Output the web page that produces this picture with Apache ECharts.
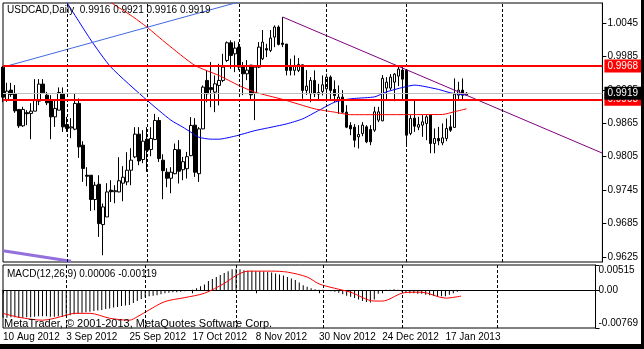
<!DOCTYPE html>
<html><head><meta charset="utf-8">
<script src="https://cdn.jsdelivr.net/npm/echarts@6/dist/echarts.min.js"></script>
<style>
html,body{margin:0;padding:0;background:#000;width:644px;height:349px;overflow:hidden}
#c{position:absolute;left:0;top:0;width:641px;height:344px;background:#fff}
</style></head><body><div id="c"></div>
<script>
const symbolTitle = 'USDCAD,Daily';
const dateLabels = ['10 Aug 2012','3 Sep 2012','25 Sep 2012','17 Oct 2012','8 Nov 2012','30 Nov 2012','24 Dec 2012','17 Jan 2013'];
const labelStep = 16;
const slotCount = 151;
const priceTicks = [0.9625,0.9685,0.9745,0.9805,0.9865,0.9925,0.9985,1.0045];
const macdTicks = [-0.00769,0,0.00515];
const monthSeparators = [16,36,59,81,101,125];

const open = [0.99659,0.99079,0.99246,0.99186,0.98899,0.98605,0.98841,0.98827,0.98868,0.99048,
0.99354,0.99156,0.99066,0.98766,0.98886,0.99186,0.98629,0.98568,0.98545,0.99007,
0.98257,0.97718,0.97718,0.97282,0.97556,0.96832,0.96969,0.97449,0.97422,0.97418,
0.97575,0.97598,0.97808,0.98047,0.98455,0.98000,0.98365,0.98180,0.98360,0.98701,
0.97988,0.97772,0.97664,0.97745,0.98176,0.97817,0.97835,0.98069,0.98617,0.97745,
0.98550,0.99420,0.99291,0.99210,0.99330,0.99420,0.99779,1.00096,0.99898,1.00018,
0.99659,0.99539,0.99695,0.99192,0.99659,0.99808,0.99991,0.99959,1.00198,1.00378,
1.00090,1.00072,0.99659,0.99600,0.99600,0.99700,0.99240,0.99179,0.99420,0.99201,
0.99222,0.99269,0.99479,0.99258,0.99061,0.99120,0.98850,0.98612,0.98581,0.98407,
0.98468,0.98586,0.98539,0.98527,0.98707,0.98694,0.99282,0.99282,0.99389,0.99497,
0.99605,0.99605,0.98468,0.98743,0.98581,0.98617,0.98647,0.98796,0.98288,0.98378,
0.98299,0.98378,0.98586,0.98576,0.99156,0.99246,0.9916];
const close = [0.99120,0.99228,0.99168,0.98874,0.98605,0.98899,0.98823,0.98868,0.99066,0.99354,
0.99197,0.99018,0.98766,0.98917,0.99204,0.98586,0.98557,0.98586,0.99007,0.98227,
0.97839,0.97700,0.97282,0.97539,0.96850,0.97149,0.97418,0.97422,0.97440,0.97619,
0.97682,0.97808,0.97988,0.98455,0.97975,0.98329,0.98167,0.98378,0.98701,0.98018,
0.97799,0.97664,0.97772,0.98180,0.97790,0.97961,0.98051,0.98612,0.97772,0.98550,
0.99300,0.99179,0.99255,0.99359,0.99420,0.99659,1.00096,0.99869,1.00000,0.99659,
0.99539,0.99605,0.99161,0.99659,1.00018,1.00108,0.99965,1.00180,1.00378,1.00067,
1.00067,0.99600,0.99600,0.99690,0.99708,0.99240,0.99318,0.99420,0.99179,0.99174,
0.99341,0.99479,0.99240,0.99150,0.99120,0.98850,0.98581,0.98550,0.98347,0.98450,
0.98617,0.98317,0.98317,0.98856,0.98856,0.99456,0.99389,0.99479,0.99533,0.99623,
0.99443,0.98437,0.98737,0.98599,0.98626,0.98676,0.98766,0.98288,0.98378,0.98335,
0.98389,0.98557,0.98527,0.99174,0.99246,0.99156,0.9919];
const low = [0.99030,0.99036,0.99125,0.98838,0.98568,0.98586,0.98617,0.98365,0.98868,0.98976,
0.99186,0.98976,0.98365,0.98586,0.98886,0.98496,0.98496,0.98383,0.98527,0.98029,
0.97598,0.97521,0.97077,0.97089,0.96610,0.96281,0.96969,0.97238,0.97215,0.97413,
0.97251,0.97539,0.97539,0.98024,0.97898,0.97934,0.97778,0.98060,0.98347,0.97957,
0.97287,0.97503,0.97395,0.97736,0.97569,0.97628,0.97659,0.98060,0.97688,0.97598,
0.98545,0.99030,0.98940,0.98850,0.98971,0.99389,0.99749,0.99628,0.99569,0.99605,
0.99156,0.99425,0.99066,0.98707,0.99641,0.99785,0.99839,0.99929,1.00018,1.00049,
1.00018,0.99510,0.99510,0.99510,0.99569,0.99090,0.99161,0.99030,0.99120,0.99061,
0.99150,0.99061,0.99061,0.99030,0.98820,0.98832,0.98563,0.98437,0.98221,0.98198,
0.98419,0.98293,0.98257,0.98496,0.98671,0.98689,0.99066,0.99246,0.99048,0.99318,
0.99066,0.98257,0.98437,0.98496,0.98527,0.98407,0.98347,0.98113,0.98113,0.98257,
0.98257,0.98329,0.98496,0.98576,0.99066,0.99066,0.9916];
const high = [0.99677,0.99377,0.99377,0.99336,0.98904,0.98946,0.98886,0.99012,0.99443,0.99443,
0.99443,0.99215,0.99156,0.99066,0.99294,0.99294,0.98766,0.98743,0.99186,0.99097,
0.98329,0.97862,0.97718,0.97598,0.97718,0.97210,0.97575,0.97628,0.97539,0.98042,
0.97880,0.98131,0.98203,0.98581,0.98581,0.98527,0.98581,0.98581,0.98820,0.98761,
0.98095,0.97844,0.97862,0.98288,0.98347,0.98047,0.98137,0.98761,0.98743,0.98581,
0.99330,0.99600,0.99749,0.99510,0.99718,0.99898,1.00121,1.00139,1.00121,1.00108,
0.99749,0.99785,0.99695,0.99695,1.00108,1.00324,1.00078,1.00324,1.00408,1.00408,
1.00558,1.00072,0.99808,0.99869,0.99821,0.99700,0.99605,0.99479,0.99600,0.99359,
0.99510,0.99539,0.99510,0.99420,0.99330,0.99246,0.98976,0.98671,0.98635,0.98617,
0.98671,0.98617,0.98617,0.98946,0.98946,0.99515,0.99479,0.99533,0.99551,0.99695,
0.99659,0.99623,0.98796,0.99066,0.98766,0.98796,0.98796,0.98796,0.98557,0.98586,
0.98647,0.98737,0.98796,0.99456,0.99395,0.99456,0.9921];

// moving averages: [bar index, price]
const maBlue = [[16,1.00818],[22,1.00144],[27,0.99659],[36,0.99066],[42,0.98707],[45,0.98581],[47,0.98491],[49,0.98401],[52,0.98365],[54,0.98365],[58,0.98419],[63,0.98518],[66,0.98563],[71,0.98640],[75,0.98730],[79,0.98881],[83,0.99030],[86,0.99079],[88,0.99097],[93,0.99125],[96,0.99215],[100,0.99294],[103,0.99336],[105,0.99318],[109,0.99258],[112,0.99197],[116,0.99156]];
const maRed = [[27,1.00818],[32,1.00588],[36,1.00378],[41,1.00078],[48,0.99690],[54,0.99510],[59,0.99330],[63,0.99210],[70,0.99079],[78,0.98910],[83,0.98850],[87,0.98805],[110,0.98809],[113,0.98859],[116,0.98910]];
// trend lines
const trendBlue = [[0,0.99659],[62,1.00888]];
const trendPurple = [[70,1.00558],[150,0.98114]];
const trendLavender = [[0,0.96362],[17,0.96173]];
// horizontal levels
const redLevels = [0.9968,0.9908];
const bidLevel = 0.9919;

// MACD
const macd = [-0.0056,-0.0056,-0.0055,-0.0055,-0.0056,-0.0056,-0.0055,-0.0055,-0.0054,-0.0053,
-0.0053,-0.0053,-0.0054,-0.0054,-0.0053,-0.0054,-0.0053,-0.0051,-0.0049,-0.0048,
-0.0046,-0.0045,-0.0044,-0.0042,-0.0041,-0.0040,-0.0038,-0.0037,-0.0035,-0.0034,
-0.0032,-0.0031,-0.0030,-0.0026,-0.0022,-0.0018,-0.0014,-0.0012,-0.0011,-0.0010,
-0.0008,-0.0006,-0.0005,-0.0004,-0.0004,-0.0003,-0.0002,-0.0001,0.0001,0.0004,
0.0008,0.0012,0.0019,0.0023,0.0027,0.0031,0.0035,0.0039,0.0043,0.0044,
0.0043,0.0041,0.0040,0.0040,0.0039,0.0039,0.0038,0.0037,0.0036,0.0034,
0.0032,0.0030,0.0027,0.0024,0.0021,0.0016,0.0010,0.0007,0.0004,0.0002,
0.0001,0.0001,0.0000,-0.0002,-0.0003,-0.0005,-0.0008,-0.0011,-0.0013,-0.0016,
-0.0019,-0.0022,-0.0024,-0.0025,-0.0019,-0.0007,-0.0002,0.0001,0.0001,0.0002,
0.0001,-0.0003,-0.0005,-0.0006,-0.0006,-0.0007,-0.0007,-0.0009,-0.0010,-0.0011,
-0.0012,-0.0012,-0.0012,-0.0009,-0.0006,-0.0003,0.00006];
const signal = [[0,-0.0047],[4,-0.0055],[10,-0.0061],[16,-0.0051],[18,-0.0047],[22,-0.0047],[27,-0.0057],[32,-0.0061],[34,-0.0054],[37,-0.0040],[41,-0.0023],[46,-0.0015],[51,-0.0006],[56,0.0014],[59,0.0030],[62,0.0039],[68,0.0039],[72,0.0037],[77,0.0027],[80,0.0013],[84,0.0004],[88,-0.0004],[94,-0.0022],[96,-0.0022],[101,-0.0006],[104,-0.0004],[106,-0.0004],[112,-0.0016],[116,-0.00119]];

const FONT = '"Liberation Sans", Arial, sans-serif';
const n = open.length;
const cats = Array.from({length: slotCount}, (_, i) => String(i));
const candles = open.map((o, i) => [o, close[i], low[i], high[i]]);
const isLabel = (i) => i % labelStep === 0 && i / labelStep < dateLabels.length;
const sepLine = (axisIdx) => ({
  type: 'line', xAxisIndex: axisIdx, yAxisIndex: axisIdx, data: [], z: 1, silent: true,
  markLine: { symbol: 'none', silent: true, animation: false, label: {show: false},
    lineStyle: {color: '#000', type: [3, 2], width: 1},
    data: monthSeparators.map(v => ({xAxis: v})) }
});
const lvlLabel = (bg) => ({ show: true, position: 'end', distance: 2, formatter: p => Number(p.value).toFixed(4),
  backgroundColor: bg, color: '#fff', fontSize: 10, fontFamily: FONT, padding: [2, 5, 1, 3] });

const chart = echarts.init(document.getElementById('c'), null, {renderer: 'canvas'});
chart.setOption({
  animation: false,
  textStyle: {fontFamily: FONT},
  title: [
    {text: symbolTitle + '  ' + [open[n-1], high[n-1], low[n-1], close[n-1]].map(v => v.toFixed(4)).join(' '),
     left: 7, top: 5, padding: 0, textStyle: {fontSize: 10, fontWeight: 'normal', color: '#000', fontFamily: FONT}},
    {text: 'MACD(12,26,9) ' + macd[n-1].toFixed(5) + ' ' + signal[signal.length-1][1].toFixed(5),
     left: 7, top: 269, padding: 0, textStyle: {fontSize: 10, fontWeight: 'normal', color: '#000', fontFamily: FONT}},
    {text: 'MetaTrader, \u00a9 2001-2013, MetaQuotes Software Corp.',
     left: 4, top: 318, padding: 0, textStyle: {fontSize: 11, fontWeight: 'normal', color: '#000', fontFamily: FONT}}
  ],
  grid: [
    {left: 3, top: 3, width: 600, height: 259, show: true, borderColor: '#000', borderWidth: 1, backgroundColor: '#fff'},
    {left: 3, top: 265, width: 600, height: 63, show: true, borderColor: '#000', borderWidth: 1, backgroundColor: '#fff'}
  ],
  xAxis: [
    {type: 'category', gridIndex: 0, data: cats, boundaryGap: false,
     axisLine: {show: false}, axisTick: {show: false}, axisLabel: {show: false}, splitLine: {show: false}},
    {type: 'category', gridIndex: 1, data: cats, boundaryGap: false,
     axisLine: {show: true, lineStyle: {color: '#000'}},
     axisTick: {show: true, interval: (i) => isLabel(i), length: 3, lineStyle: {color: '#000'}},
     axisLabel: {show: true, interval: (i) => isLabel(i), formatter: (v, i) => dateLabels[i / labelStep] || '',
       align: 'left', margin: 4, fontSize: 10, color: '#000', fontFamily: FONT},
     splitLine: {show: false}}
  ],
  yAxis: [
    {type: 'value', gridIndex: 0, position: 'right', min: 0.9616, max: 1.0081, scale: true,
     axisLine: {show: true, lineStyle: {color: '#000'}},
     axisTick: {show: true, length: 4, customValues: priceTicks, lineStyle: {color: '#000'}},
     axisLabel: {show: true, customValues: priceTicks, formatter: v => v.toFixed(4), margin: 5, fontSize: 10, color: '#000', fontFamily: FONT},
     splitLine: {show: false}},
    {type: 'value', gridIndex: 1, position: 'right', min: -0.00769, max: 0.00515,
     axisLine: {show: true, lineStyle: {color: '#000'}},
     axisTick: {show: true, length: 4, customValues: macdTicks, lineStyle: {color: '#000'}},
     axisLabel: {show: true, customValues: macdTicks, formatter: v => v === 0 ? '0.00' : v.toFixed(5),
       verticalAlignMinLabel: 'bottom', verticalAlignMaxLabel: 'top',
       margin: 3, fontSize: 10, color: '#000', fontFamily: FONT},
     splitLine: {show: false}}
  ],
  series: [
    sepLine(0),
    sepLine(1),
    {type: 'candlestick', xAxisIndex: 0, yAxisIndex: 0, data: candles, barWidth: 3, z: 3, clip: true,
     itemStyle: {color: '#fff', color0: '#000', borderColor: '#000', borderColor0: '#000', borderWidth: 1}},
    {type: 'line', xAxisIndex: 0, yAxisIndex: 0, data: maBlue, showSymbol: false, smooth: 0.2, z: 4,
     lineStyle: {color: '#0000ff', width: 1}},
    {type: 'line', xAxisIndex: 0, yAxisIndex: 0, data: maRed, showSymbol: false, smooth: 0.2, z: 4,
     lineStyle: {color: '#ff0000', width: 1}},
    {type: 'line', xAxisIndex: 0, yAxisIndex: 0, data: trendBlue, showSymbol: false, z: 4,
     lineStyle: {color: '#4169e1', width: 1}},
    {type: 'line', xAxisIndex: 0, yAxisIndex: 0, data: trendPurple, showSymbol: false, z: 4,
     lineStyle: {color: '#800080', width: 1}},
    {type: 'line', xAxisIndex: 0, yAxisIndex: 0, data: trendLavender, showSymbol: false, z: 4,
     lineStyle: {color: '#9370db', width: 3}},
    {type: 'line', xAxisIndex: 0, yAxisIndex: 0, data: [], z: 5,
     markLine: {symbol: 'none', silent: true, animation: false, precision: 4, lineStyle: {color: '#ff0000', type: 'solid', width: 2},
       label: lvlLabel('#ff0000'), data: redLevels.map(v => ({yAxis: v}))}},
    {type: 'line', xAxisIndex: 0, yAxisIndex: 0, data: [], z: 6,
     markLine: {symbol: 'none', silent: true, animation: false, precision: 4, lineStyle: {color: '#c0c0c0', type: 'solid', width: 1},
       label: lvlLabel('#000'), data: [{yAxis: bidLevel}]}},
    {type: 'bar', xAxisIndex: 1, yAxisIndex: 1, data: macd, barWidth: 1, z: 3,
     itemStyle: {color: '#000'}},
    {type: 'line', xAxisIndex: 1, yAxisIndex: 1, data: signal, showSymbol: false, smooth: 0.3, z: 4,
     lineStyle: {color: '#ff0000', width: 1}}
  ]
});
</script></body></html>
